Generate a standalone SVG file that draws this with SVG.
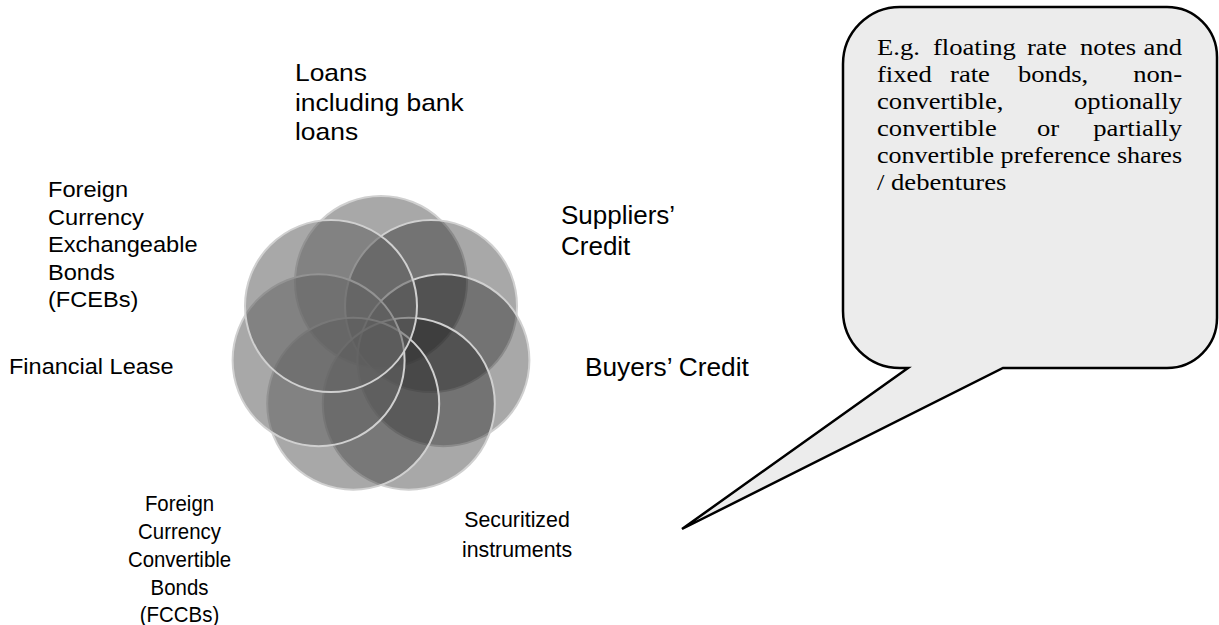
<svg xmlns="http://www.w3.org/2000/svg" width="1219" height="625" viewBox="0 0 1219 625">
<style>
.lbl{font-family:"Liberation Sans",Arial,sans-serif;fill:#000}
.note{font-family:"Liberation Serif","Times New Roman",serif;font-size:24px;fill:#000}
.end{text-anchor:end}
.petal{stroke:#d0d0d0;stroke-width:2}
.dk{fill:#1e1e1e;fill-opacity:0.387}
.md{fill:#3c3c3c;fill-opacity:0.446}
.lt{fill:#646464;fill-opacity:0.561}
</style>
<rect width="1219" height="625" fill="#fff"/>
<g id="rosette">
<circle class="petal md" cx="381" cy="282" r="86"/>
<circle class="petal dk" cx="431" cy="306.1" r="86"/>
<circle class="petal dk" cx="443.4" cy="360.2" r="86"/>
<circle class="petal dk" cx="408.8" cy="403.7" r="86"/>
<circle class="petal md" cx="353.2" cy="403.7" r="86"/>
<circle class="petal lt" cx="318.6" cy="360.2" r="86"/>
<circle class="petal lt" cx="331" cy="306.1" r="86"/>
</g>
<g id="connectors">
<path id="callout" d="M900,7 H1167 A50,50 0 0 1 1217,57 V318 A50,50 0 0 1 1167,368 H1003 L682,529 L908,368 H900 A57,57 0 0 1 843,311 V64 A57,57 0 0 1 900,7 Z" fill="#ececec" stroke="#000" stroke-width="2.5" stroke-linejoin="miter"/>
</g>
<g id="node-note" transform="scale(1.11,1)">
<text class="note"><tspan x="790.1" y="55">E.g.</tspan><tspan x="840.5" y="55">floating</tspan><tspan x="925.2" y="55">rate</tspan><tspan x="973" y="55">notes</tspan></text>
<text class="note end" x="1064.9" y="55">and</text>
<text class="note"><tspan x="790.1" y="82">fixed</tspan><tspan x="855.9" y="82">rate</tspan><tspan x="917.1" y="82">bonds,</tspan></text>
<text class="note end" x="1064.9" y="82">non-</text>
<text class="note" x="790.1" y="109">convertible,</text>
<text class="note end" x="1064.9" y="109">optionally</text>
<text class="note"><tspan x="790.1" y="136">convertible</tspan><tspan x="934.2" y="136">or</tspan></text>
<text class="note end" x="1064.9" y="136">partially</text>
<text class="note" x="790.1" y="163" textLength="274.8" lengthAdjust="spacingAndGlyphs">convertible preference shares</text>
<text class="note" x="790.1" y="190">/ debentures</text>
</g>
<g id="node-loans">
<text class="lbl" font-size="24" transform="translate(295,0) scale(1.1,1)"><tspan x="0" y="81">Loans</tspan><tspan x="0" y="111">including bank</tspan><tspan x="0" y="140">loans</tspan></text>
</g>
<g id="node-suppliers">
<text class="lbl" font-size="25" transform="translate(561,0) scale(1.04,1)"><tspan x="0" y="224">Suppliers’</tspan><tspan x="0" y="255">Credit</tspan></text>
</g>
<g id="node-buyers">
<text class="lbl" font-size="25" transform="translate(585,0) scale(1.05,1)"><tspan x="0" y="376">Buyers’ Credit</tspan></text>
</g>
<g id="node-securitized">
<text class="lbl" font-size="22" text-anchor="middle" transform="translate(517,0) scale(0.97,1)"><tspan x="0" y="527">Securitized</tspan><tspan x="0" y="557">instruments</tspan></text>
</g>
<g id="node-fccb">
<text class="lbl" font-size="21.5" text-anchor="middle" transform="translate(179.5,0) scale(0.95,1)"><tspan x="0" y="511">Foreign</tspan><tspan x="0" y="539">Currency</tspan><tspan x="0" y="567">Convertible</tspan><tspan x="0" y="595">Bonds</tspan><tspan x="0" y="622">(FCCBs)</tspan></text>
</g>
<g id="node-lease">
<text class="lbl" font-size="22.5" transform="translate(9,0) scale(1.045,1)"><tspan x="0" y="374">Financial Lease</tspan></text>
</g>
<g id="node-fceb">
<text class="lbl" font-size="22.5" transform="translate(48,0) scale(1.05,1)"><tspan x="0" y="197">Foreign</tspan><tspan x="0" y="225">Currency</tspan><tspan x="0" y="252">Exchangeable</tspan><tspan x="0" y="280">Bonds</tspan><tspan x="0" y="307">(FCEBs)</tspan></text>
</g>
</svg>
